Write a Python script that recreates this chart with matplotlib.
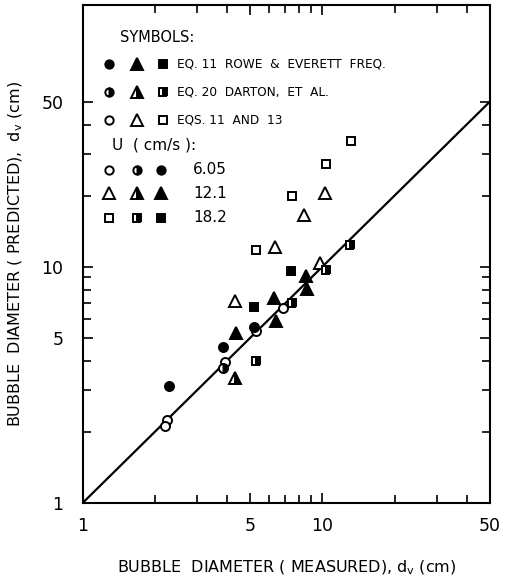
import matplotlib.pyplot as plt
import numpy as np

# Data (measured, predicted), bubble diameter in cm
# circles: U = 6.05 cm/s
circ_open_x = [2.25, 2.2, 3.91, 5.28, 6.88]
circ_open_y = [2.25, 2.12, 3.93, 5.36, 6.68]
circ_half_x = [3.86]
circ_half_y = [3.73]
circ_fill_x = [2.3, 3.83, 5.19]
circ_fill_y = [3.13, 4.58, 5.58]

# triangles: U = 12.1 cm/s
tri_open_x = [4.3, 6.35, 8.35, 10.3, 9.8]
tri_open_y = [7.13, 12.1, 16.5, 20.5, 10.4]
tri_half_x = [4.3]
tri_half_y = [3.38]
tri_fill_x = [4.35, 6.27, 6.41, 8.51, 8.65]
tri_fill_y = [5.23, 7.37, 5.87, 9.16, 8.04]

# squares: U = 18.2 cm/s
sq_open_x = [5.28, 7.46, 10.4, 13.2]
sq_open_y = [11.8, 20.0, 27.2, 34.0]
sq_half_x = [5.28, 7.46, 10.4, 13.1]
sq_half_y = [4.0, 7.02, 9.7, 12.4]
sq_fill_x = [5.18, 7.4]
sq_fill_y = [6.75, 9.55]

line_x = [1, 50]
line_y = [1, 50]

method_labels = ['EQ. 11  ROWE  &  EVERETT  FREQ.', 'EQ. 20  DARTON,  ET  AL.', 'EQS. 11  AND  13']
u_labels = ['6.05', '12.1', '18.2']

plt.rcParams['font.family'] = 'DejaVu Sans'

fig = plt.figure(figsize=(5.05, 5.86), dpi=100)
ax = fig.add_axes([0.164, 0.142, 0.806, 0.849])

style = dict(color='black', linestyle='none', markeredgewidth=1.4)
fill = dict(markerfacecolor='black')
half = dict(fillstyle='right', markerfacecolor='black', markerfacecoloralt='white')
empty = dict(markerfacecolor='white')

ax.plot(line_x, line_y, color='black', lw=1.6, zorder=1)

ax.plot(circ_open_x, circ_open_y, 'o', ms=6.5, **style, **empty)
ax.plot(circ_half_x, circ_half_y, 'o', ms=6.5, **style, **half)
ax.plot(circ_fill_x, circ_fill_y, 'o', ms=6.5, **style, **fill)
ax.plot(tri_open_x, tri_open_y, '^', ms=8.5, **style, **empty)
ax.plot(tri_half_x, tri_half_y, '^', ms=8.5, **style, **half)
ax.plot(tri_fill_x, tri_fill_y, '^', ms=8.5, **style, **fill)
ax.plot(sq_open_x, sq_open_y, 's', ms=6, **style, **empty)
ax.plot(sq_half_x, sq_half_y, 's', ms=6, **style, **half)
ax.plot(sq_fill_x, sq_fill_y, 's', ms=6, **style, **fill)

ax.set_xscale('log')
ax.set_yscale('log')
ax.set_xlim(1, 50)
ax.set_ylim(1, 128)
ax.set_xticks([1, 5, 10, 50])
ax.set_xticklabels(['1', '5', '10', '50'])
ax.set_yticks([1, 5, 10, 50])
ax.set_yticklabels(['1', '5', '10', '50'])
ax.set_xticks([2, 3, 4, 6, 7, 8, 9, 20, 30, 40], minor=True)
ax.set_yticks([2, 3, 4, 6, 7, 8, 9, 20, 30, 40], minor=True)
ax.xaxis.set_minor_formatter(plt.NullFormatter())
ax.yaxis.set_minor_formatter(plt.NullFormatter())
ax.tick_params(which='both', direction='in', top=True, right=True, width=1.2, labelsize=12.5)
ax.tick_params(axis='x', which='major', length=7, pad=10)
ax.tick_params(axis='y', which='major', length=7, pad=14)
ax.tick_params(which='minor', length=6)
for s in ax.spines.values():
    s.set_linewidth(1.5)

ax.set_xlabel('BUBBLE  DIAMETER ( MEASURED), d$_\\mathregular{v}$ (cm)', fontsize=11.5, labelpad=17)
ax.set_ylabel('BUBBLE  DIAMETER ( PREDICTED),  d$_\\mathregular{v}$ (cm)', fontsize=11.5, labelpad=12)

# legend block, placed in figure pixels
W, H = 505, 586
def fx(px):
    return px / W
def fy(py):
    return 1 - py / H

fig.text(fx(120), fy(37), 'SYMBOLS:', fontsize=10.5, va='center')
rows_y = [64, 92, 120]
styles = [fill, half, empty]
for ry, st, lab in zip(rows_y, styles, method_labels):
    for mx, m, ms in [(109, 'o', 6), (137, '^', 8), (163, 's', 5.5)]:
        fig.lines.append(plt.Line2D([fx(mx)], [fy(ry)], marker=m, ms=ms, transform=fig.transFigure, **style, **st))
    fig.text(fx(177), fy(ry), lab, fontsize=8.7, va='center')

fig.text(fx(112), fy(145), 'U  ( cm/s ):', fontsize=11, va='center')
urows_y = [170, 193, 218]
for ry, m, ms, lab in zip(urows_y, ['o', '^', 's'], [6, 8, 5.5], u_labels):
    for mx, st in zip([109, 137, 161], [empty, half, fill]):
        fig.lines.append(plt.Line2D([fx(mx)], [fy(ry)], marker=m, ms=ms, transform=fig.transFigure, **style, **st))
    fig.text(fx(193), fy(ry), lab, fontsize=11, va='center')

fig.savefig('out.png', dpi=100)
